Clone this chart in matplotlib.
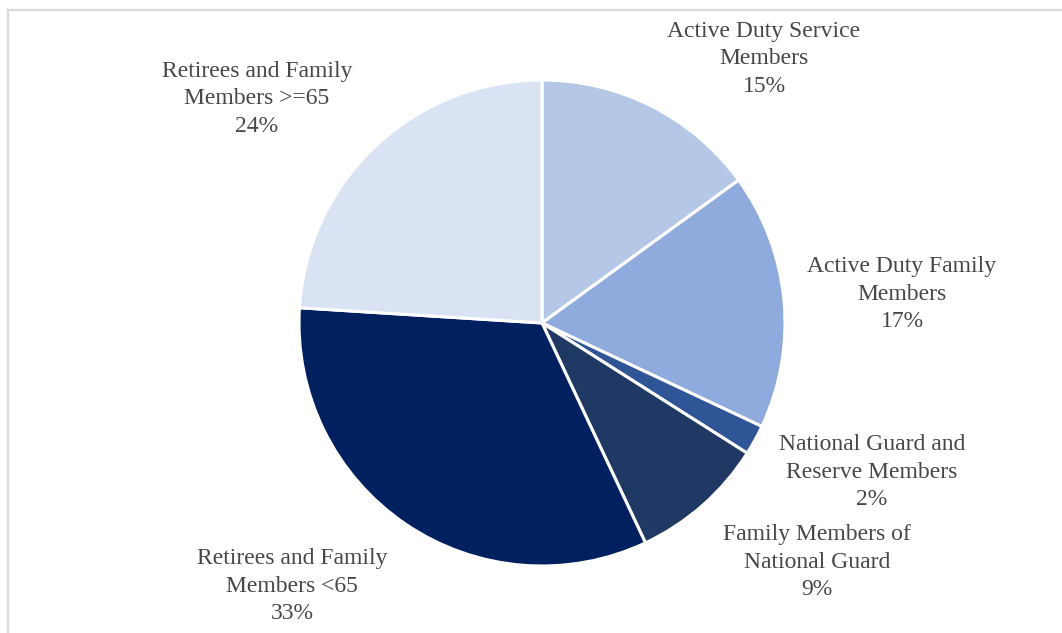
import matplotlib
matplotlib.use("Agg")
import matplotlib.pyplot as plt
from matplotlib.lines import Line2D

categories = [
    "Active Duty Service\nMembers",
    "Active Duty Family\nMembers",
    "National Guard and\nReserve Members",
    "Family Members of\nNational Guard",
    "Retirees and Family\nMembers <65",
    "Retirees and Family\nMembers >=65",
]
shares = [15, 17, 2, 9, 33, 24]
colors = ["#B4C7E7", "#8FAADC", "#2F5597", "#203864", "#002060", "#DAE3F3"]

# label anchor points in pixels (center of text block)
label_px = [(764, 59), (902, 294), (872, 472), (817, 562), (292, 586), (257, 99)]

W, H = 1062, 633
fig = plt.figure(figsize=(W / 100, H / 100), dpi=100)
fig.patch.set_facecolor("white")

cx, cy, r = 542, 323, 243
ax = fig.add_axes([(cx - r) / W, (H - cy - r) / H, 2 * r / W, 2 * r / H])
ax.pie(shares, colors=colors, startangle=90, counterclock=False, radius=1,
       wedgeprops=dict(edgecolor="white", linewidth=2.2))
ax.set_xlim(-1, 1)
ax.set_ylim(-1, 1)
ax.set_aspect("equal")
ax.axis("off")

for name, val, (px, py) in zip(categories, shares, label_px):
    fig.text(px / W, 1 - py / H, f"{name}\n{val}%", ha="center", va="center",
             family="Liberation Serif", fontsize=17, color="#474747",
             linespacing=1.38)

# chart frame (left and top edges)
fig.add_artist(Line2D([8 / W, 8 / W], [0, 1 - 10 / H], transform=fig.transFigure,
                      color="#D9D9D9", lw=1.6))
fig.add_artist(Line2D([8 / W, 1], [1 - 10 / H, 1 - 10 / H], transform=fig.transFigure,
                      color="#D9D9D9", lw=1.6))

fig.savefig("out.png", dpi=100)
